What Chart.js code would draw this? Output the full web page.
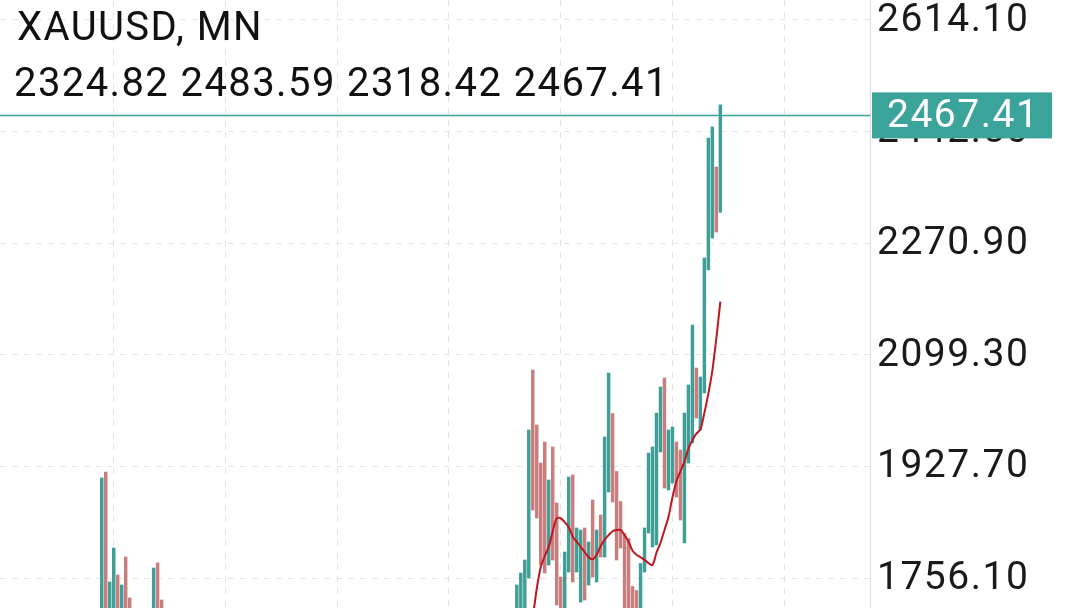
<!DOCTYPE html>
<html>
<head>
<meta charset="utf-8">
<script src="https://cdn.jsdelivr.net/npm/chart.js@4.4.1/dist/chart.umd.min.js"></script>
<style>
  html, body { margin: 0; padding: 0; background: #fff; }
  #wrap { width: 1080px; height: 608px; }
</style>
</head>
<body>
<div id="wrap"><canvas id="chart"></canvas></div>
<script>
// --- data (monthly bars, index = bar slot) ---
const symbolTitle = 'XAUUSD, MN';
const lastOHLC = [2324.82, 2483.59, 2318.42, 2467.41];
const tickValues = [1756.10, 1927.70, 2099.30, 2270.90, 2442.50, 2614.10];

const barIndex = [25, 26, 27, 28, 29, 30, 31, 32, 38, 39, 40,
  129, 130, 131, 132, 133, 134, 135, 136, 137, 138, 139, 140, 141, 142, 143, 144, 145, 146, 147, 148,
  149, 150, 151, 152, 153, 154, 155, 156, 157, 158, 159, 160, 161, 162, 163, 164, 165, 166, 167, 168,
  169, 170, 171, 172, 173, 174, 175, 176, 177, 178, 179, 180];
const barHigh = [1909.9, 1919.1, 1750.0, 1802.2, 1760.7, 1745.4, 1788.4, 1725.4, 1771.5, 1779.2, 1722.3,
  1745.4, 1763.8, 1783.8, 1983.7, 2075.9, 1991.4, 1932.9, 1965.2, 1906.8, 1957.6, 1871.5, 1757.6, 1796.1, 1911.4, 1914.5, 1833.0, 1829.9, 1833.0, 1811.5, 1876.1,
  1829.9, 1853.0, 1972.9, 2071.3, 2009.0, 1919.9, 1873.8, 1824.5, 1816.9, 1743.0, 1736.9, 1778.4, 1833.0, 1948.3, 1957.6, 2009.8, 2049.8, 2063.6, 1983.7, 1988.3,
  1965.2, 1952.9, 2009.8, 2052.9, 2145.1, 2079.0, 2065.2, 2248.2, 2432.7, 2449.6, 2388.1, 2483.59];
const barLow = [1680, 1680, 1680, 1680, 1680, 1680, 1680, 1680, 1680, 1680, 1680,
  1690, 1680, 1690, 1756.1, 1860.7, 1848.4, 1776.1, 1763.8, 1776.1, 1783.8, 1714.6, 1680, 1680, 1765.3, 1750.0, 1765.3, 1719.2, 1722.3, 1745.4, 1757.6,
  1750.0, 1788.4, 1788.4, 1888.3, 1873.0, 1783.8, 1802.2, 1680, 1680, 1680, 1680, 1680, 1765.3, 1825.3, 1803.8, 1806.9, 1949.9, 1894.5, 1891.4, 1902.2,
  1880.7, 1845.3, 1809.9, 1932.9, 1963.7, 2002.1, 1983.7, 2040.6, 2229.7, 2278.9, 2288.1, 2318.42];
const barUp = [1, 0, 1, 1, 0, 1, 0, 0, 1, 0, 0,
  1, 1, 1, 1, 0, 0, 0, 0, 1, 0, 0, 0, 1, 1, 0, 1, 1, 0, 1, 0,
  1, 0, 1, 1, 0, 0, 0, 0, 0, 0, 0, 1, 1, 1, 1, 1, 1, 0, 1, 1,
  0, 0, 1, 1, 1, 0, 1, 1, 1, 1, 0, 1];

const maStart = 132;
const maValues = [1690, 1700, 1740, 1773, 1790, 1804, 1828, 1848, 1848, 1842, 1834, 1820, 1812, 1804, 1796, 1788,
  1785, 1792, 1805, 1815, 1822, 1828, 1830, 1830, 1822, 1812, 1798, 1792, 1788, 1784, 1779, 1776,
  1795, 1810, 1830, 1850, 1880, 1905, 1920, 1935, 1955, 1968, 1978, 1985, 2010, 2040, 2075, 2125, 2181];

const slotCount = 218;
const upColor = '#3f9e96';
const downColor = '#c97e7e';
const lineTeal = '#3aa39a';

// --- build library data from the arrays ---
const labels = [];
for (let i = 0; i < slotCount; i++) labels.push(String(i));
const ranges = new Array(slotCount).fill(null);
const colors = new Array(slotCount).fill(upColor);
barIndex.forEach(function(idx, k) {
    ranges[idx] = [barLow[k], barHigh[k]];
    colors[idx] = barUp[k] ? upColor : downColor;
});
const maData = new Array(slotCount).fill(null);
maValues.forEach(function(v, k) { maData[maStart + k] = v; });

const overlay = {
    id: 'overlay',
    afterDraw(chart) {
        const c = chart.ctx;
        const y = chart.scales.y;
        const area = chart.chartArea;
        c.save();
        // right axis labels
        c.fillStyle = '#1a1a1a';
        c.font = '39px Roboto';
        c.letterSpacing = '1.5px';
        c.textBaseline = 'middle';
        tickValues.forEach(v => c.fillText(v.toFixed(2), 877, y.getPixelForValue(v) + 1));
        // last price line
        const last = lastOHLC[3];
        const py = y.getPixelForValue(last);
        c.strokeStyle = lineTeal;
        c.lineWidth = 1.5;
        c.beginPath();
        c.moveTo(0, py);
        c.lineTo(area.right, py);
        c.stroke();
        // price tag
        c.fillStyle = lineTeal;
        c.fillRect(872, py - 23, 180, 46);
        c.fillStyle = '#ffffff';
        c.fillText(last.toFixed(2), 887, py + 2);
        // header
        c.fillStyle = '#111111';
        c.font = '40px Roboto';
        c.letterSpacing = '1.4px';
        c.textBaseline = 'alphabetic';
        c.fillText(symbolTitle, 17, 40);
        c.fillText(lastOHLC.map(v => v.toFixed(2)).join(' '), 14, 96);
        c.restore();
    }
};

new Chart(document.getElementById('chart').getContext('2d'), {
    data: {
        labels: labels,
        datasets: [
            {
                type: 'line',
                data: maData,
                borderColor: '#c01620',
                borderWidth: 2,
                pointRadius: 0,
                tension: 0.3,
                spanGaps: false
            },
            {
                type: 'bar',
                data: ranges,
                backgroundColor: colors,
                barThickness: 2.8,
                borderSkipped: false
            }
        ]
    },
    plugins: [overlay],
    options: {
        responsive: true,
        maintainAspectRatio: false,
        animation: false,
        layout: { padding: 0 },
        plugins: { legend: { display: false }, tooltip: { enabled: false } },
        scales: {
            x: {
                type: 'category',
                offset: true,
                afterFit: scale => { scale.height = 0; },
                ticks: { display: false, autoSkip: false },
                border: { display: false, dash: [6, 6] },
                grid: {
                    offset: false,
                    drawTicks: false,
                    color: ctx => (ctx.index > 0 && ctx.index % 28 === 0) ? '#e4e4e4' : 'rgba(0,0,0,0)'
                }
            },
            y: {
                position: 'right',
                min: 1710,
                max: 2644.85,
                afterBuildTicks: scale => { scale.ticks = tickValues.map(v => ({ value: v })); },
                afterFit: scale => { scale.width = 210; },
                ticks: { display: false },
                border: { display: true, color: '#dddddd', dash: [6, 6] },
                grid: { color: '#e6e6e6', drawTicks: false }
            }
        }
    }
});
</script>
</body>
</html>
